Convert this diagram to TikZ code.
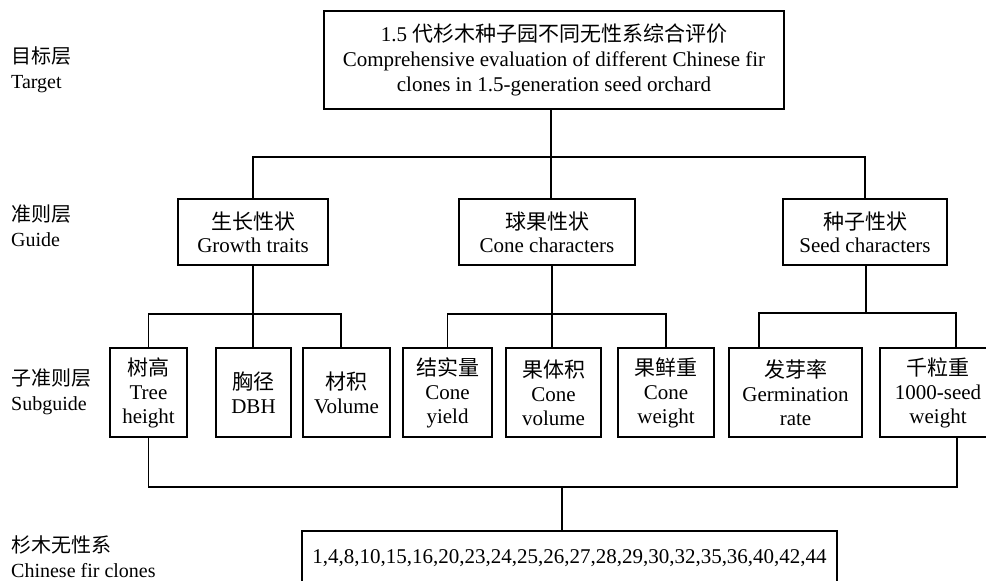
\documentclass[tikz,border=0pt]{standalone}
\usepackage{fontspec}
\setmainfont{Liberation Serif}
\newfontfamily\cjk{Noto Sans CJK SC}
\usetikzlibrary{calc}
\begin{document}
\begin{tikzpicture}[x=1pt,y=-1pt,
  box/.style={draw, line width=1.6pt, inner sep=0pt, align=center, font=\fontsize{21}{24}\selectfont},
  lbl/.style={anchor=west, align=left, inner sep=0pt, font=\fontsize{20}{25}\selectfont},
  ln/.style={line width=1.6pt}]
\useasboundingbox (0,0) rectangle (986,581);
\fill[white] (0,0) rectangle (986,581);
\clip (0,0) rectangle (986,581);

% left labels
\node[lbl] (L1) at (11,70) {{\cjk 目标层}\\Target};
\node[lbl] (L2) at (11,226) {{\cjk 准则层}\\Guide};
\node[lbl] (L3) at (11,392) {{\cjk 子准则层}\\Subguide};
\node[lbl] (L4) at (11,557) {{\cjk 杉木无性系}\\Chinese fir clones};

% target
\node[box, minimum width=460pt, minimum height=98pt, font=\fontsize{21}{25}\selectfont] (top) at (554,60)
  {1.5 {\cjk 代杉木种子园不同无性系综合评价}\\Comprehensive evaluation of different Chinese fir\\clones in 1.5-generation seed orchard};

% guide
\node[box, minimum width=150pt, minimum height=66pt, font=\fontsize{21}{23}\selectfont] (G1) at (253,232) {{\cjk 生长性状}\\Growth traits};
\node[box, minimum width=176pt, minimum height=66pt, font=\fontsize{21}{23}\selectfont] (G2) at (547,232) {{\cjk 球果性状}\\Cone characters};
\node[box, minimum width=164pt, minimum height=66pt, font=\fontsize{21}{23}\selectfont] (G3) at (865,232) {{\cjk 种子性状}\\Seed characters};

% subguide
\node[box, minimum width=77pt, minimum height=89pt] (S1) at (148.5,392.5) {{\cjk 树高}\\Tree\\height};
\node[box, minimum width=75pt, minimum height=89pt] (S2) at (253.5,392.5) {{\cjk 胸径}\\DBH};
\node[box, minimum width=87pt, minimum height=89pt] (S3) at (346.5,392.5) {{\cjk 材积}\\Volume};
\node[box, minimum width=89pt, minimum height=89pt] (S4) at (447.5,392.5) {{\cjk 结实量}\\Cone\\yield};
\node[box, minimum width=95pt, minimum height=89pt] (S5) at (553.5,392.5) {{\cjk 果体积}\\Cone\\volume};
\node[box, minimum width=96pt, minimum height=89pt] (S6) at (666,392.5) {{\cjk 果鲜重}\\Cone\\weight};
\node[box, minimum width=133pt, minimum height=89pt] (S7) at (795.5,392.5) {{\cjk 发芽率}\\Germination\\rate};
\node[box, minimum width=116pt, minimum height=89pt] (S8) at (938,392.5) {{\cjk 千粒重}\\1000-seed\\weight};

% clones
\node[box, minimum width=535pt, minimum height=54pt] (B) at (569.5,558)
  {1,4,8,10,15,16,20,23,24,25,26,27,28,29,30,32,35,36,40,42,44};

% junctions
\coordinate (t1) at (551,157);
\coordinate (g1) at (253,314);
\coordinate (c1) at (552,314);
\coordinate (d1) at (866,313);
\coordinate (b1) at (562,487);
% off-centre attachment points on boxes
\coordinate (s3t) at ($(S3.north)+(-5.5,0)$);
\coordinate (s7t) at ($(S7.north)+(-36.5,0)$);
\coordinate (s8t) at ($(S8.north)+(18,0)$);
\coordinate (s8b) at ($(S8.south)+(19,0)$);

% target -> guide
\draw[ln] (top.south -| t1) -- (t1);
\draw[ln] (G1.north) -- (G1.north |- t1) -- (G3.north |- t1) -- (G3.north);
\draw[ln] (G2.north -| t1) -- (t1);

% growth
\draw[ln] (G1.south) -- (g1);
\draw[ln] (S1.north) -- (S1.north |- g1) -- (s3t |- g1) -- (s3t);
\draw[ln] (S2.north -| g1) -- (g1);

% cone
\draw[ln] (G2.south -| c1) -- (c1);
\draw[ln] (S4.north) -- (S4.north |- c1) -- (S6.north |- c1) -- (S6.north);
\draw[ln] (S5.north -| c1) -- (c1);

% seed
\draw[ln] (G3.south -| d1) -- (d1);
\draw[ln] (s7t) -- (s7t |- d1) -- (s8t |- d1) -- (s8t);

% subguide -> clones
\draw[ln] (S1.south) -- (S1.south |- b1) -- (s8b |- b1) -- (s8b);
\draw[ln] (B.north -| b1) -- (b1);
\end{tikzpicture}
\end{document}
